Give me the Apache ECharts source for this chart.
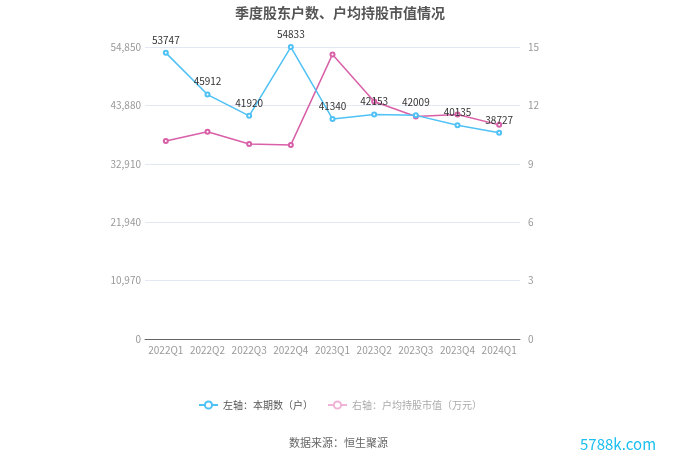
<!DOCTYPE html>
<html><head><meta charset="utf-8">
<script src="https://cdn.jsdelivr.net/npm/echarts@6/dist/echarts.min.js"></script>
<style>html,body{margin:0;padding:0;background:#fff}#c{width:680px;height:460px}</style>
</head><body><div id="c"></div>
<script>
const categories = ['2022Q1','2022Q2','2022Q3','2022Q4','2023Q1','2023Q2','2023Q3','2023Q4','2024Q1'];
const holders = [53747,45912,41920,54833,41340,42153,42009,40135,38727];
const avgValue = [10.17,10.65,10.02,9.97,14.62,12.2,11.43,11.53,11.0];
const leftTicks = [0,10970,21940,32910,43880,54850];
const rightTicks = [0,3,6,9,12,15];
const seriesNames = ['左轴：本期数（户）','右轴：户均持股市值（万元）'];

const chart = echarts.init(document.getElementById('c'), null, {renderer:'canvas'});
const ff = '"Microsoft YaHei","Noto Sans CJK SC",sans-serif';
chart.setOption({
  animation:false,
  textStyle:{fontFamily:ff},
  title:{text:'季度股东户数、户均持股市值情况',left:'center',top:1,
    textStyle:{fontSize:14,fontWeight:'bold',color:'#555',fontFamily:ff}},
  grid:{left:145,right:160,top:47,bottom:121},
  legend:{bottom:45,left:'center',itemWidth:19,itemHeight:9,itemGap:14,
    textStyle:{fontSize:10,color:'#555'},
    data:[{name:seriesNames[0]},
          {name:seriesNames[1],textStyle:{color:'#aaa'},itemStyle:{color:'#f0b3d6',borderColor:'#f0b3d6'},lineStyle:{color:'#f0b3d6'}}]},
  xAxis:{type:'category',data:categories,boundaryGap:true,
    axisLine:{lineStyle:{color:'#666'}},
    axisTick:{alignWithLabel:true,lineStyle:{color:'#666'}},
    axisLabel:{color:'#999',fontSize:10,margin:6,interval:0}},
  yAxis:[{type:'value',min:leftTicks[0],max:leftTicks[leftTicks.length-1],interval:leftTicks[1]-leftTicks[0],
    axisLine:{show:false},axisTick:{show:false},
    axisLabel:{color:'#999',fontSize:10,margin:4,formatter:v=>v.toLocaleString('en-US')},
    splitLine:{lineStyle:{color:'#e3e8f4'}}},
   {type:'value',min:rightTicks[0],max:rightTicks[rightTicks.length-1],interval:rightTicks[1]-rightTicks[0],
    axisLine:{show:false},axisTick:{show:false},
    axisLabel:{color:'#999',fontSize:10,margin:8},
    splitLine:{show:false}}],
  series:[
   {name:seriesNames[0],type:'line',yAxisIndex:0,data:holders,symbol:'emptyCircle',symbolSize:4,
    itemStyle:{color:'#4fc1f5'},lineStyle:{width:1.5,color:'#4fc1f5'},
    label:{show:true,position:'top',color:'#333',fontSize:10,distance:5},z:3},
   {name:seriesNames[1],type:'line',yAxisIndex:1,data:avgValue,symbol:'emptyCircle',symbolSize:4,
    itemStyle:{color:'#d85fa8'},lineStyle:{width:1.5,color:'#d85fa8'},z:2}
  ],
  graphic:[
   {type:'text',left:289,top:437,style:{text:'数据来源：恒生聚源',fill:'#666',fontSize:11,fontFamily:ff}},
   {type:'text',left:580,top:437,style:{text:'5788k.com',fill:'#1bbff0',fontSize:15,fontFamily:ff}}
  ]
});
</script></body></html>
